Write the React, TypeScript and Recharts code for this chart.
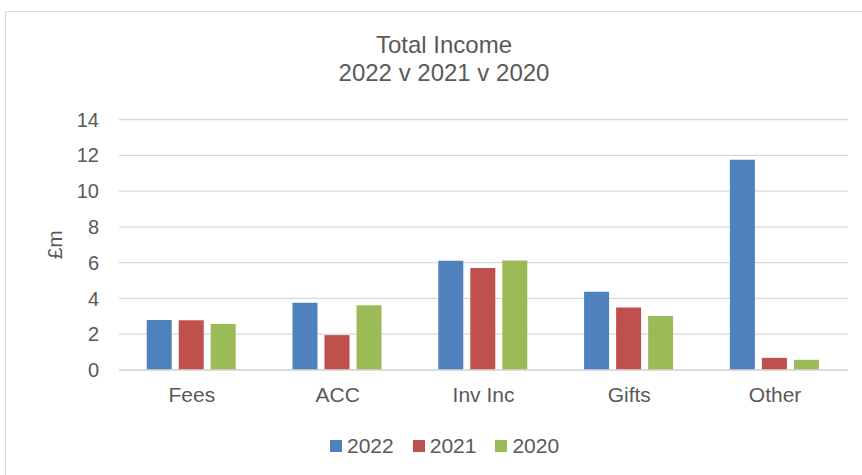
import { BarChart, Bar, XAxis, YAxis, CartesianGrid, Legend } from "recharts";

const categories = ["Fees", "ACC", "Inv Inc", "Gifts", "Other"];
const values2022 = [2.8, 3.76, 6.1, 4.37, 11.75];
const values2021 = [2.78, 1.95, 5.7, 3.5, 0.68];
const values2020 = [2.57, 3.62, 6.12, 3.02, 0.57];
const yTicks = [0, 2, 4, 6, 8, 10, 12, 14];

const series = [
  { key: "2022", values: values2022, color: "#4f81bd" },
  { key: "2021", values: values2021, color: "#c0504d" },
  { key: "2020", values: values2020, color: "#9bbb59" },
];

const data = categories.map((name, i) => {
  const row: Record<string, string | number> = { name };
  series.forEach(s => { row[s.key] = s.values[i]; });
  return row;
});

const FONT = "'Liberation Sans', Arial, sans-serif";
const TEXT = "#595959";
const GRID = "#d9d9d9";

function LegendContent() {
  return (
    <div style={{ display: "flex", alignItems: "center", height: 24, fontFamily: FONT, fontSize: 21, color: TEXT }}>
      {series.map(s => (
        <div key={s.key} style={{ display: "flex", alignItems: "center", marginRight: 19 }}>
          <span style={{ width: 12, height: 12, background: s.color, marginRight: 5, display: "inline-block" }} />
          <span>{s.key}</span>
        </div>
      ))}
    </div>
  );
}

export default function App() {
  return (
    <div style={{ position: "absolute", left: 0, top: 0, width: 862, height: 475, overflow: "hidden", background: "#fff" }}>
      <div style={{ position: "absolute", left: 5, top: 11, width: 900, height: 500, border: `1px solid ${GRID}` }} />
      <div style={{ position: "absolute", left: 0, width: 888, top: 31, textAlign: "center", fontFamily: FONT, fontSize: 24, color: TEXT, lineHeight: "28px" }}>
        <div>Total Income</div>
        <div>2022 v 2021 v 2020</div>
      </div>
      <div style={{ position: "absolute", left: 0, top: 0 }}>
        <BarChart width={862} height={475} data={data}
          margin={{ top: 119.5, right: 14, bottom: 51, left: 0 }}
          barCategoryGap="19%" barGap={7}>
          <CartesianGrid vertical={false} stroke={GRID} strokeWidth={1.3} />
          <XAxis dataKey="name" axisLine={{ stroke: GRID, strokeWidth: 1.3 }} tickLine={false} tickSize={0} tickMargin={17}
            tick={{ fill: TEXT, fontSize: 21, fontFamily: FONT }} />
          <YAxis width={119} domain={[0, 14]} ticks={yTicks} axisLine={false} tickLine={false} tickSize={0} tickMargin={20}
            tick={{ fill: TEXT, fontSize: 20, fontFamily: FONT }}
            label={{ value: "£m", angle: -90, position: "center", dx: -4.5, fill: TEXT, fontSize: 21, fontFamily: FONT }} />
          {series.map(s => (
            <Bar key={s.key} dataKey={s.key} fill={s.color} isAnimationActive={false} />
          ))}
          <Legend content={<LegendContent />} wrapperStyle={{ left: 330, top: 434, bottom: "auto", width: "auto" }} />
        </BarChart>
      </div>
    </div>
  );
}
